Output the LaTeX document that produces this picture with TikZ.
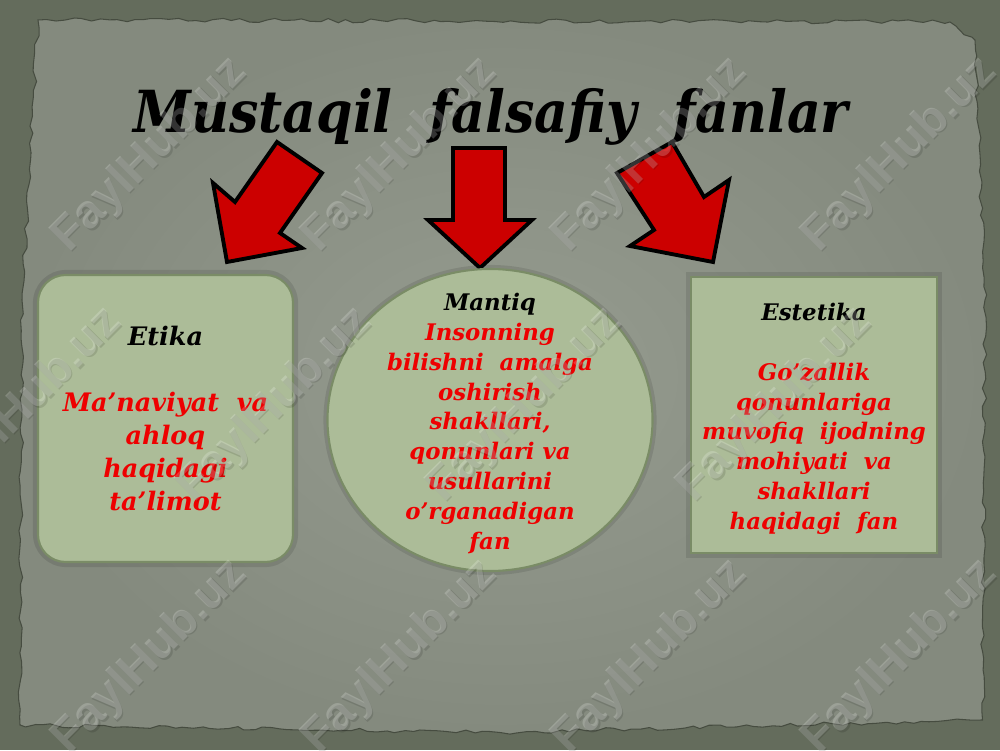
\documentclass[tikz,border=0pt]{standalone}
\usepackage{fontspec}
\setmainfont{DejaVu Serif}
\newfontfamily\titlefont[FakeStretch=0.9]{DejaVu Serif}
\newfontfamily\markfont{Liberation Sans}
\usetikzlibrary{shapes.geometric,decorations.pathmorphing}

\definecolor{outerbg}{RGB}{100,108,92}
\definecolor{paper}{RGB}{132,138,126}
\definecolor{paperlight}{RGB}{150,156,144}
\definecolor{boxfill}{RGB}{172,188,152}
\definecolor{boxline}{RGB}{122,140,102}
\definecolor{arrowred}{RGB}{204,0,0}
\definecolor{textred}{RGB}{238,0,0}

\begin{document}
\begin{tikzpicture}[
  topic/.style={fill=boxfill, draw=boxline, line width=1.2pt, inner sep=0pt},
  topictext/.style={inner sep=0pt, font=\fontsize{13}{17}\selectfont\bfseries\itshape},
  halo/.style={draw=black, opacity=0.1, line width=3.5pt},
  bigarrow/.style={fill=arrowred, draw=black, line width=2.2pt, line join=miter},
  wmark/.style={rotate=45, text=white, opacity=0.2,
    font=\markfont\fontsize{27}{27}\selectfont\bfseries},
  wshade/.style={rotate=45, text=black, opacity=0.12,
    font=\markfont\fontsize{27}{27}\selectfont\bfseries}
]
\useasboundingbox (0,0) rectangle (20,15);
\fill [outerbg] (0,0) rectangle (20,15);
\pgfmathsetseed{7}
\path [decorate, decoration={random steps, segment length=5pt, amplitude=1.2pt},
  inner color=paperlight, outer color=paper, draw=outerbg!70!black, line width=0.6pt]
  (0.76,14.6) -- (19.0,14.56) -- (19.5,14.2) -- (19.7,9.0) -- (19.65,0.6)
  -- (10,0.35) -- (0.4,0.5) -- (0.44,9.0) -- cycle;

\node (title) [anchor=base, font=\titlefont\fontsize{33}{33}\selectfont\bfseries\itshape]
  at (9.82,12.34) {Mustaqil\ \ falsafiy\ \ fanlar};

\draw [bigarrow] (5.54,12.16) -- (6.44,11.54) -- (5.60,10.34) -- (6.04,10.04)
  -- (4.54,9.76) -- (4.26,11.34) -- (4.70,10.96) -- cycle;
\draw [bigarrow] (9.06,12.04) -- (10.10,12.04) -- (10.10,10.60) -- (10.64,10.60)
  -- (9.60,9.64) -- (8.56,10.60) -- (9.06,10.60) -- cycle;
\draw [bigarrow] (12.34,11.54) -- (13.44,12.16) -- (14.08,11.06) -- (14.58,11.40)
  -- (14.26,9.76) -- (12.60,10.08) -- (13.08,10.40) -- cycle;

\draw [halo, rounded corners=0.6cm] (0.72,3.72) rectangle (5.90,9.54);
\draw [halo] (9.80,6.60) ellipse (3.27cm and 3.04cm);
\draw [halo] (13.78,3.90) rectangle (18.78,9.50);

\node (etika) [topic, rounded corners=0.55cm, minimum width=5.1cm, minimum height=5.74cm]
  at (3.31,6.63) {};
\node (mantiq) [topic, ellipse, minimum width=6.5cm, minimum height=6.04cm] at (9.80,6.60) {};
\node (estetika) [topic, minimum width=4.92cm, minimum height=5.52cm] at (16.28,6.70) {};

\node (etikatext) [topictext, font=\fontsize{14.5}{18.8}\selectfont\bfseries\itshape]
  at ([yshift=-0.06cm]etika.center) {
\begin{tabular}{c}
  Etika \\
  \\
  \textcolor{textred}{Ma’naviyat\ \ va} \\
  \textcolor{textred}{ahloq} \\
  \textcolor{textred}{haqidagi} \\
  \textcolor{textred}{ta’limot} \\
\end{tabular}
};
\node (mantiqtext) [topictext] at ([yshift=-0.08cm]mantiq.center) {
\begin{tabular}{c}
  Mantiq \\
  \textcolor{textred}{Insonning} \\
  \textcolor{textred}{bilishni\ \ amalga} \\
  \textcolor{textred}{oshirish} \\
  \textcolor{textred}{shakllari,} \\
  \textcolor{textred}{qonunlari va} \\
  \textcolor{textred}{usullarini} \\
  \textcolor{textred}{o’rganadigan} \\
  \textcolor{textred}{fan} \\
\end{tabular}
};
\node (estetikatext) [topictext] at ([yshift=-0.08cm]estetika.center) {
\begin{tabular}{c}
  Estetika \\
  \\
  \textcolor{textred}{Go’zallik} \\
  \textcolor{textred}{qonunlariga} \\
  \textcolor{textred}{muvofiq\ \ ijodning} \\
  \textcolor{textred}{mohiyati\ \ va} \\
  \textcolor{textred}{shakllari} \\
  \textcolor{textred}{haqidagi\ \ fan} \\
\end{tabular}
};

\foreach \x in {3,8,13,18} {
  \node [wshade] at (\x+0.03,11.87) {FaylHub.uz};
  \node [wmark] at (\x,11.9) {FaylHub.uz};
  \node [wshade] at (\x+0.03,1.83) {FaylHub.uz};
  \node [wmark] at (\x,1.86) {FaylHub.uz};
}
\foreach \x in {0.5,5.5,10.5,15.5} {
  \node [wshade] at (\x+0.03,6.87) {FaylHub.uz};
  \node [wmark] at (\x,6.9) {FaylHub.uz};
}
\end{tikzpicture}
\end{document}
